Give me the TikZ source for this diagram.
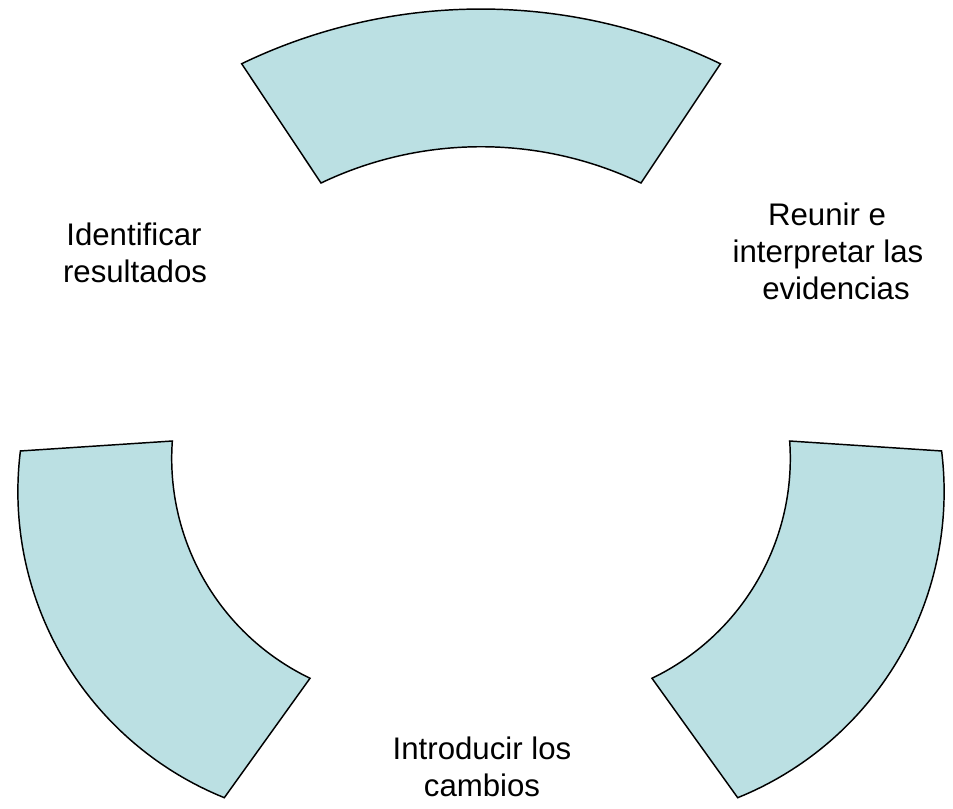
\documentclass[tikz,border=0pt]{standalone}
\usepackage{fontspec}
\setmainfont{Liberation Sans}
\usetikzlibrary{calc}
\definecolor{segfill}{HTML}{BBE0E3}
\begin{document}
\begin{tikzpicture}[x=0.75pt,y=-0.75pt,
  seg/.style={draw=black, fill=segfill, line width=1.1pt, line join=miter},
  lbl/.style={font=\fontsize{23.4}{28}\selectfont, anchor=base, inner sep=0pt}]
\useasboundingbox (0,0) rectangle (953,808);
% centres of the arcs
\coordinate (ct) at (481,560);
\coordinate (cti) at (481,517.5);
\coordinate (lo) at (348.2,491.5);
\coordinate (li) at (415.6,458.4);
\coordinate (ro) at (613.8,491.5);
\coordinate (ri) at (546.4,458.4);
% top segment
\draw[seg] ($(ct)+(244.25:551)$) arc[start angle=244.25,end angle=295.76,radius=551]
  -- ($(cti)+(295.56:370.8)$) arc[start angle=295.56,end angle=244.44,radius=370.8] -- cycle;
% left segment
\draw[seg] ($(lo)+(187.05:330.3)$) arc[start angle=187.05,end angle=112.03,radius=330.3]
  -- ($(li)+(115.65:243.9)$) arc[start angle=115.65,end angle=184.09,radius=243.9] -- cycle;
% right segment
\draw[seg] ($(ro)+(-7.05:330.3)$) arc[start angle=-7.05,end angle=67.97,radius=330.3]
  -- ($(ri)+(64.35:243.9)$) arc[start angle=64.35,end angle=-4.09,radius=243.9] -- cycle;
% labels
\node[lbl] (id1) at (134,245) {Identificar};
\node[lbl] (id2) at (135,282) {resultados};
\node[lbl] (re1) at (827,225) {Reunir e};
\node[lbl] (re2) at (828,262) {interpretar las};
\node[lbl] (re3) at (836,299) {evidencias};
\node[lbl] (in1) at (482,759) {Introducir los};
\node[lbl] (in2) at (482,796) {cambios};
\end{tikzpicture}
\end{document}
